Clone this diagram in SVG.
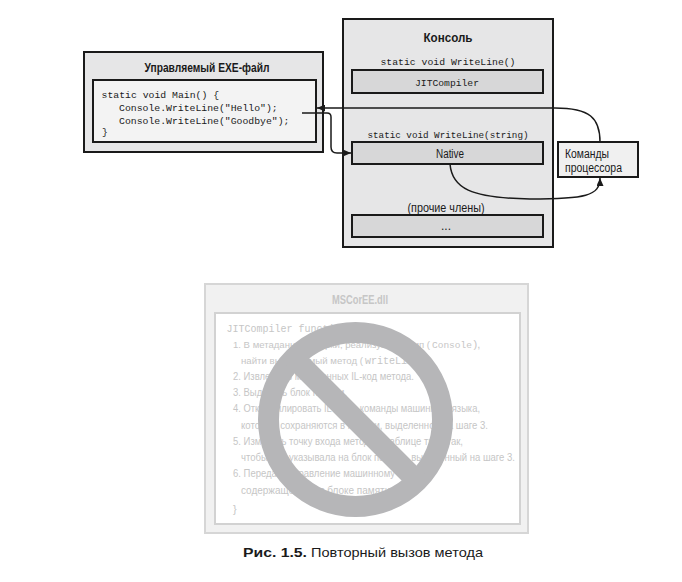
<svg xmlns="http://www.w3.org/2000/svg" width="682" height="582" viewBox="0 0 682 582">
<style>
.box{stroke:#1a1a1a;stroke-width:2}
.outer{fill:#e6e6e7}
.light{fill:#f3f3f3}
.mid{fill:#d7d7d8}
.ttl{font-family:"Liberation Sans Narrow","Liberation Sans",Arial,sans-serif;font-weight:bold;font-size:12.5px;fill:#1a1a1a}
.sans{font-family:"Liberation Sans Narrow","Liberation Sans",Arial,sans-serif;font-size:12px;fill:#1a1a1a}
.mono{font-family:"Liberation Mono","DejaVu Sans Mono",monospace;font-size:9.8px;fill:#1a1a1a}
.conn{fill:none;stroke:#1a1a1a;stroke-width:1.5}
.gbox{fill:#f1f1f1;stroke:#d6d6d6;stroke-width:2}
.gin{fill:#ffffff;stroke:#d2d2d2;stroke-width:2}
.gs{font-family:"Liberation Sans",Arial,sans-serif;font-size:11px;fill:#c6c6c6}
.gm{font-family:"Liberation Mono","DejaVu Sans Mono",monospace;font-size:10px;fill:#c6c6c6}
.ring{fill:none;stroke:#b6b6b8;stroke-width:21}
.cap{font-family:"Liberation Sans",Arial,sans-serif;font-size:13.5px;fill:#1a1a1a}
</style>
<defs>
<marker id="arr" markerUnits="userSpaceOnUse" markerWidth="8" markerHeight="7" refX="8" refY="3.5" orient="auto">
<path d="M0,0 L8,3.5 L0,7 z" fill="#1a1a1a"/>
</marker>
</defs>

<g id="exe">
<rect class="box outer" x="84" y="52" width="239" height="100"/>
<text class="ttl" x="207" y="72" text-anchor="middle" textLength="125" lengthAdjust="spacingAndGlyphs">Управляемый EXE-файл</text>
<rect class="box light" x="93" y="80" width="223" height="62"/>
<text class="mono" x="101.5" y="98">static void Main() {</text>
<text class="mono" x="119" y="111">Console.WriteLine("Hello");</text>
<text class="mono" x="119" y="123.5">Console.WriteLine("Goodbye");</text>
<text class="mono" x="102" y="135">}</text>
</g>

<g id="console">
<rect class="box outer" x="343" y="19" width="210" height="228"/>
<text class="ttl" x="448" y="42" text-anchor="middle" textLength="49" lengthAdjust="spacingAndGlyphs">Консоль</text>
<text class="mono" x="448" y="64.5" text-anchor="middle" textLength="135" lengthAdjust="spacingAndGlyphs">static void WriteLine()</text>
<text class="mono" x="448" y="137.5" text-anchor="middle" textLength="161" lengthAdjust="spacingAndGlyphs">static void WriteLine(string)</text>
<text class="sans" x="446" y="211.5" text-anchor="middle" textLength="77" lengthAdjust="spacingAndGlyphs">(прочие члены)</text>
</g>

<g id="jitcompiler">
<rect class="box mid" x="352" y="70" width="191" height="23"/>
<text class="mono" x="447" y="85.5" text-anchor="middle" textLength="64" lengthAdjust="spacingAndGlyphs">JITCompiler</text>
</g>

<g id="native">
<rect class="box mid" x="352" y="142" width="191" height="22"/>
<text class="sans" x="450" y="157.5" text-anchor="middle" textLength="28" lengthAdjust="spacingAndGlyphs">Native</text>
</g>

<g id="other">
<rect class="box mid" x="352" y="215" width="191" height="22"/>
<text class="sans" x="446" y="230" text-anchor="middle">...</text>
</g>

<g id="cpu">
<rect class="box" fill="#f0f0f0" x="558" y="142" width="80" height="35"/>
<text class="sans" x="565" y="157.5" textLength="44" lengthAdjust="spacingAndGlyphs">Команды</text>
<text class="sans" x="565" y="171.5" textLength="57" lengthAdjust="spacingAndGlyphs">процессора</text>
</g>

<g id="connectors">
<path class="conn" d="M302,113 H327 Q331,113 331,117 V147 Q331,153 337,153 H351" marker-end="url(#arr)"/>
<path class="conn" d="M600,142 C600,118 590,108 555,108 H317" marker-end="url(#arr)"/>
<path class="conn" d="M450,164 C452,188 470,198 530,199 C585,199 600,196 600,178" marker-end="url(#arr)"/>
</g>

<g id="mscoree">
<rect class="gbox" x="205" y="284" width="323" height="249"/>
<text class="gs" x="360" y="304" text-anchor="middle" style="font-weight:bold;font-size:12px" textLength="56" lengthAdjust="spacingAndGlyphs">MSCorEE.dll</text>
<rect class="gin" x="215" y="313" width="305" height="211"/>
<text class="gm" x="226.5" y="332" textLength="132" lengthAdjust="spacingAndGlyphs">JITCompiler function {</text>
<text class="gs" x="233" y="348" style="font-size:9.4px" textLength="197" lengthAdjust="spacingAndGlyphs">1. В метаданных сборки, реализующей тип (</text>
<text class="gm" x="432" y="348" style="font-size:9.5px">Console</text>
<text class="gs" x="473.5" y="348">),</text>
<text class="gs" x="241" y="364" style="font-size:9.5px" textLength="122" lengthAdjust="spacingAndGlyphs">найти вызываемый метод (</text>
<text class="gm" x="365" y="364">writeLine</text>
<text class="gs" x="420" y="364">).</text>
<text class="gs" x="233" y="380" textLength="181" lengthAdjust="spacingAndGlyphs">2. Извлечь из метаданных IL-код метода.</text>
<text class="gs" x="233" y="396" textLength="114" lengthAdjust="spacingAndGlyphs">3. Выделить блок памяти.</text>
<text class="gs" x="233" y="412" textLength="247" lengthAdjust="spacingAndGlyphs">4. Откомпилировать IL-код в команды машинного языка,</text>
<text class="gs" x="241" y="428.5" textLength="247" lengthAdjust="spacingAndGlyphs">которые сохраняются в памяти, выделенной на шаге 3.</text>
<text class="gs" x="233" y="445" textLength="230" lengthAdjust="spacingAndGlyphs">5. Изменить точку входа метода в таблице типа так,</text>
<text class="gs" x="241" y="461" textLength="274" lengthAdjust="spacingAndGlyphs">чтобы она указывала на блок памяти, выделенный на шаге 3.</text>
<text class="gs" x="233" y="477" textLength="186" lengthAdjust="spacingAndGlyphs">6. Передать управление машинному коду,</text>
<text class="gs" x="241" y="493.5" textLength="152" lengthAdjust="spacingAndGlyphs">содержащемуся в блоке памяти.</text>
<text class="gs" x="233" y="513">}</text>
<circle class="ring" cx="355.5" cy="419.5" r="87"/>
<line x1="294" y1="358" x2="417" y2="481" stroke="#b6b6b8" stroke-width="21"/>
</g>

<text class="cap" x="243" y="557" style="font-weight:bold" textLength="64" lengthAdjust="spacingAndGlyphs">Рис. 1.5.</text>
<text class="cap" x="311" y="557" textLength="172" lengthAdjust="spacingAndGlyphs">Повторный вызов метода</text>
</svg>
